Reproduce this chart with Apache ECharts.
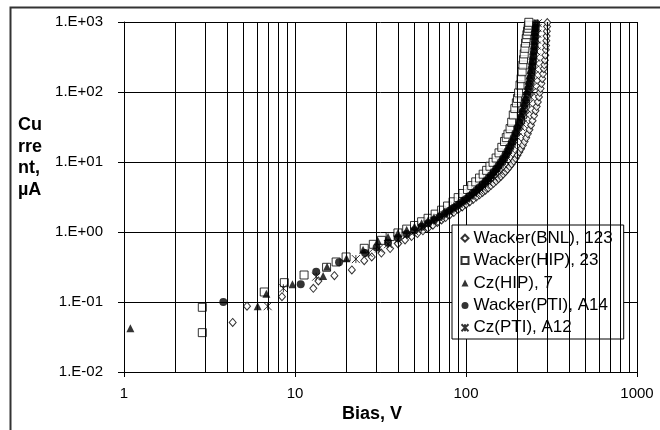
<!DOCTYPE html>
<html>
<head>
<meta charset="utf-8">
<script src="https://cdn.jsdelivr.net/npm/echarts@6/dist/echarts.min.js"></script>
<style>
  html, body { margin: 0; padding: 0; background: #fff; }
  #chart { width: 660px; height: 430px; }
</style>
</head>
<body>
<div id="chart"></div>
<script>
// series names, as in the legend
var seriesNames = ['Wacker(BNL), 123', 'Wacker(HIP), 23', 'Cz(HIP), 7', 'Wacker(PTI), A14', 'Cz(PTI), A12'];

// [bias V, current uA]
var wackerBNL = [
  [4.32, 0.051], [5.24, 0.087], [8.39, 0.119], [12.8, 0.157], [13.7, 0.2], [17, 0.238], [21.5, 0.287],
  [25.4, 0.39], [28.1, 0.44], [32, 0.5], [36, 0.58], [40, 0.68], [44, 0.77], [48, 0.86], [52, 0.95],
  [56, 1.04], [60, 1.14], [64, 1.25], [68, 1.37], [72, 1.49], [76, 1.61], [80, 1.74], [85, 1.91],
  [90, 2.09], [95, 2.28], [100, 2.48], [105, 2.69], [110, 2.91], [115, 3.15], [120, 3.4], [125, 3.67],
  [130, 3.96], [135, 4.27], [140, 4.6], [145, 4.96], [150, 5.35], [155, 5.77], [160, 6.23], [165, 6.73],
  [170, 7.28], [175, 7.9], [180, 8.6], [185, 9.4], [190, 10.3], [195, 11.3], [200, 12.5], [205, 13.9],
  [210, 15.5], [215, 17.4], [220, 19.6], [225, 22.2], [230, 25.3], [235, 29], [240, 33.5], [245, 39],
  [250, 46], [255, 54], [259, 62], [263, 72], [267, 85], [270, 98], [273, 112], [276, 132], [279, 155],
  [282, 182], [285, 215], [287, 245], [289, 285], [291, 335], [293, 400], [294, 460], [295, 540],
  [296, 630], [297, 740], [298, 860], [299, 980]
];
var wackerHIP = [
  [2.87, 0.084], [2.87, 0.0365], [6.61, 0.139], [8.66, 0.189], [11.3, 0.243], [15.3, 0.313], [17.4, 0.373],
  [19.9, 0.44], [25.4, 0.585], [28.7, 0.667], [32, 0.76], [36, 0.86], [40, 0.97], [45, 1.1], [50, 1.24],
  [55, 1.4], [60, 1.57], [66, 1.8], [72, 2.05], [78, 2.35], [84, 2.7], [90, 3.1], [96, 3.55], [102, 4.05],
  [108, 4.6], [114, 5.2], [120, 5.9], [126, 6.7], [132, 7.6], [138, 8.7], [144, 9.9], [150, 11.4],
  [156, 13.5], [162, 16.2], [168, 19.6], [172, 22.3], [176, 25], [181, 30], [185, 37], [189, 47],
  [193, 58], [197, 70], [200, 81], [203, 97], [207, 126], [210, 155], [213, 195], [215, 243], [217, 290],
  [219, 350], [221, 421], [223, 500], [225, 580], [227, 660], [229, 740], [231, 813], [232, 900], [233, 990]
];
var czHIP = [
  [1.09, 0.042], [6.05, 0.087], [6.8, 0.131], [9.66, 0.179], [14.6, 0.235], [15.4, 0.32], [20, 0.42],
  [25, 0.56], [30.5, 0.75], [35, 0.85], [40, 0.97], [45, 1.08], [50, 1.2], [55, 1.33], [60, 1.47],
  [65, 1.62], [70, 1.79], [75, 1.97], [80, 2.17], [85, 2.38], [90, 2.6], [95, 2.85], [100, 3.12],
  [105, 3.42], [110, 3.75], [115, 4.1], [120, 4.5], [125, 4.95], [130, 5.45], [135, 6.0], [140, 6.65],
  [145, 7.4], [150, 8.2], [155, 9.2], [160, 10.3], [165, 11.6], [170, 13.1], [175, 15], [180, 17.3],
  [185, 20], [190, 23.5], [195, 28], [200, 33.5], [205, 40], [210, 49], [214, 58], [218, 70], [222, 85],
  [226, 103], [229, 122], [232, 145], [235, 172], [238, 205], [240, 240], [242, 280], [244, 330],
  [246, 390], [248, 460], [249, 540], [250, 630], [251, 720], [252, 820], [253, 920]
];
var wackerPTI = [
  [3.81, 0.1], [10.8, 0.18], [13.3, 0.271], [18.1, 0.37], [25.7, 0.5], [30, 0.6], [35, 0.7], [40, 0.82],
  [45, 0.94], [50, 1.06], [55, 1.19], [60, 1.33], [65, 1.48], [70, 1.64], [75, 1.82], [80, 2.01],
  [85, 2.22], [90, 2.45], [95, 2.7], [100, 2.97], [105, 3.27], [110, 3.6], [115, 3.96], [120, 4.36],
  [125, 4.8], [130, 5.3], [135, 5.85], [140, 6.47], [145, 7.2], [150, 8.0], [155, 8.9], [160, 10],
  [165, 11.2], [170, 12.7], [175, 14.4], [180, 16.5], [185, 19], [190, 22], [195, 26], [200, 31],
  [205, 37], [210, 44], [215, 53], [220, 65], [224, 77], [228, 92], [232, 112], [235, 132], [238, 157],
  [241, 190], [244, 230], [246, 270], [248, 320], [250, 380], [252, 450], [253, 530], [254, 620],
  [255, 720], [256, 830], [257, 950]
];
var czPTI = [
  [6.92, 0.087], [8.55, 0.157], [13.3, 0.23], [22.7, 0.41], [27, 0.5], [31, 0.58], [35, 0.67], [40, 0.78],
  [45, 0.9], [50, 1.02], [55, 1.15], [60, 1.28], [65, 1.42], [70, 1.57], [75, 1.73], [80, 1.9],
  [85, 2.09], [90, 2.29], [95, 2.51], [100, 2.75], [105, 3.0], [110, 3.28], [115, 3.58], [120, 3.92],
  [125, 4.28], [130, 4.68], [135, 5.12], [140, 5.62], [145, 6.18], [150, 6.8], [155, 7.5], [160, 8.3],
  [165, 9.25], [170, 10.3], [175, 11.6], [180, 13.1], [185, 14.9], [190, 17], [195, 19.5], [200, 22.5],
  [205, 26.5], [210, 31.5], [215, 35], [220, 40], [225, 47], [230, 56], [235, 68], [240, 84], [244, 100],
  [247, 120], [250, 145], [252, 175], [254, 210], [256, 255], [257, 310], [258, 380], [259, 460],
  [260, 560], [261, 680], [262, 820], [263, 960]
];

// vertical grid lines at 2..9 of each decade
var minorGridV = [2, 3, 4, 5, 6, 7, 8, 9, 20, 30, 40, 50, 60, 70, 80, 90, 200, 300, 400, 500, 600, 700, 800, 900];

var font = '"Liberation Sans", Arial, sans-serif';
var hollow = { color: '#fff', borderColor: '#000', borderWidth: 1 };
var filled = { color: '#000', borderColor: '#000', borderWidth: 0 };

function expLabel(v) {
  var e = Math.round(Math.log10(v));
  var a = Math.abs(e);
  return '1.E' + (e < 0 ? '-' : '+') + (a < 10 ? '0' : '') + a;
}

var chart = echarts.init(document.getElementById('chart'));
chart.setOption({
  animation: false,
  backgroundColor: '#fff',
  grid: { left: 124, right: 23, top: 22, bottom: 58, containLabel: false, outerBoundsMode: 'none' },
  xAxis: {
    type: 'log', logBase: 10, min: 1, max: 1000, interval: 1,
    axisLine: { show: true, lineStyle: { color: '#000', width: 1 } },
    axisTick: { show: true, inside: false, length: 5, lineStyle: { color: '#000' } },
    axisLabel: {
      margin: 14, color: '#000', fontFamily: font, fontSize: 15,
      formatter: function (v) { return String(Math.round(v)); }
    },
    splitLine: { show: true, lineStyle: { color: '#000', width: 1 } }
  },
  yAxis: {
    type: 'log', logBase: 10, min: 0.01, max: 1000, interval: 1,
    axisLine: { show: true, lineStyle: { color: '#000', width: 1 } },
    axisTick: { show: true, inside: false, length: 6, lineStyle: { color: '#000' } },
    axisLabel: { margin: 21, color: '#000', fontFamily: font, fontSize: 15, formatter: expLabel },
    splitLine: { show: true, lineStyle: { color: '#000', width: 1 } }
  },
  legend: {
    data: seriesNames,
    orient: 'vertical',
    left: 452, top: 225,
    padding: [2, 11, 0, 7],
    itemGap: 0,
    itemWidth: 7, itemHeight: 7,
    backgroundColor: '#fff',
    borderColor: '#000', borderWidth: 1, borderRadius: 0,
    selectedMode: false,
    textStyle: { fontFamily: font, fontSize: 17, color: '#000', lineHeight: 22.4 }
  },
  graphic: [
    { type: 'rect', left: 8, top: 5, shape: { width: 700, height: 500 },
      style: { fill: 'none', stroke: '#333', lineWidth: 2 }, silent: true, z: 100 },
    { type: 'text', left: 18, top: 114,
      style: { text: 'Cu\nrre\nnt,\nµA', font: 'bold 18px ' + font, fill: '#000', lineHeight: 21.7 } },
    { type: 'text', left: 342, top: 405,
      style: { text: 'Bias, V', font: 'bold 18px ' + font, fill: '#000' } }
  ],
  series: [
    {
      name: 'minor grid', type: 'scatter', data: [], silent: true, z: 1,
      markLine: {
        silent: true, symbol: ['none', 'none'], animation: false,
        label: { show: false },
        lineStyle: { color: '#000', width: 1, type: 'solid' },
        emphasis: { disabled: true },
        data: minorGridV.map(function (v) { return { xAxis: v }; })
      }
    },
    { name: seriesNames[0], type: 'scatter', data: wackerBNL, symbol: 'diamond', symbolSize: [7, 8], itemStyle: hollow, z: 3 },
    { name: seriesNames[1], type: 'scatter', data: wackerHIP, symbol: 'rect', symbolSize: 8, itemStyle: hollow, z: 4 },
    { name: seriesNames[2], type: 'scatter', data: czHIP, symbol: 'triangle', symbolSize: 8, itemStyle: filled, z: 5 },
    { name: seriesNames[3], type: 'scatter', data: wackerPTI, symbol: 'circle', symbolSize: 8, itemStyle: filled, z: 6 },
    { name: seriesNames[4], type: 'scatter', data: czPTI, symbol: 'path://M0,0L10,10M10,0L0,10M5,0L5,10', symbolSize: 8,
      itemStyle: { color: 'none', borderColor: '#000', borderWidth: 1 }, z: 7 }
  ]
});
</script>
</body>
</html>
